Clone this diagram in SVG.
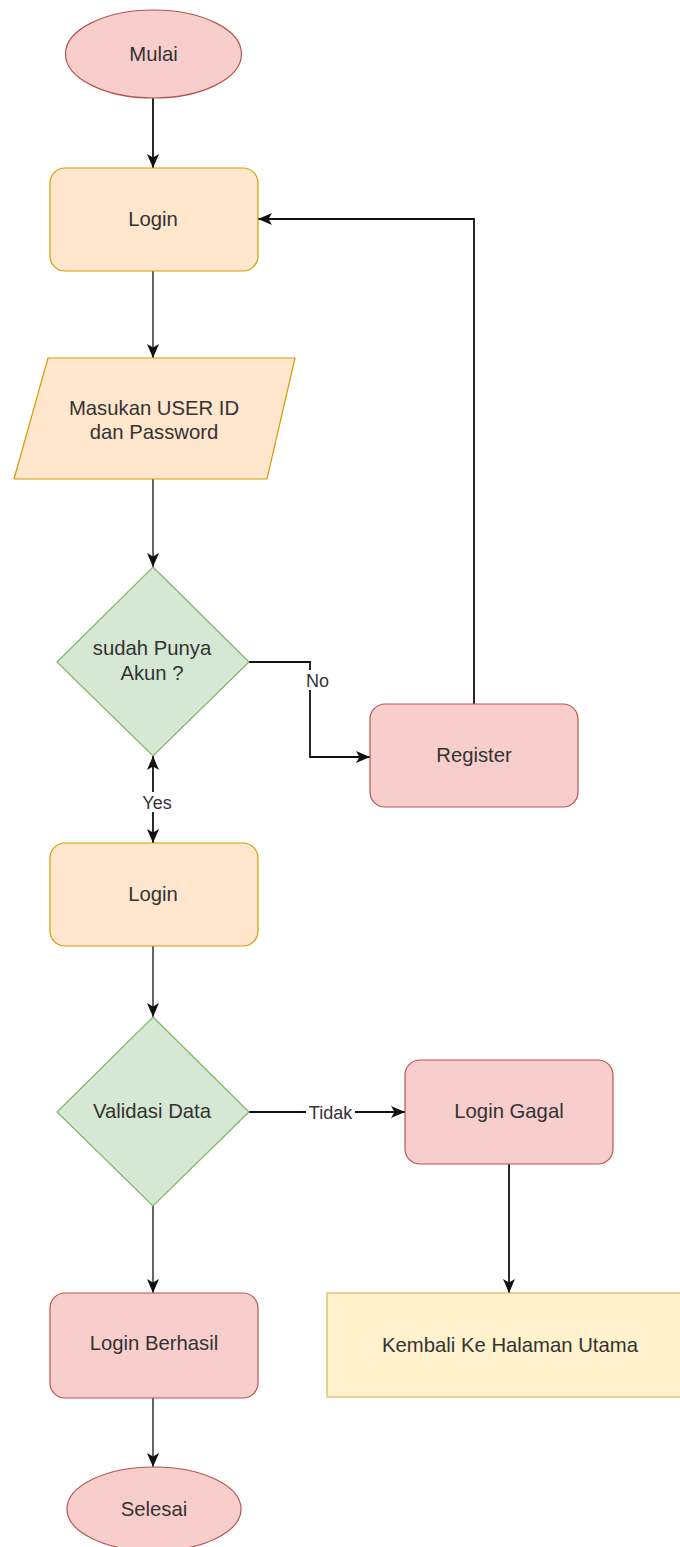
<svg xmlns="http://www.w3.org/2000/svg" width="680" height="1547" viewBox="0 0 680 1547">
  <defs>
    <style>
      .term { fill: #f8cecc; stroke: #b85450; stroke-width: 1.2; }
      .proc { fill: #ffe6cc; stroke: #d79b00; stroke-width: 1.2; }
      .red  { fill: #f8cecc; stroke: #b85450; stroke-width: 1.2; }
      .dec  { fill: #d5e8d4; stroke: #82b366; stroke-width: 1.2; }
      .note { fill: #fff2cc; stroke: #d6b656; stroke-width: 1.2; }
      .t    { font-family: "Liberation Sans", Arial, sans-serif; font-size: 20.3px; fill: #333333; text-anchor: middle; }
      .lbl  { font-family: "Liberation Sans", Arial, sans-serif; font-size: 18px; fill: #333333; text-anchor: middle; }
      .edge { fill: none; stroke: #111111; stroke-width: 1.8; }
      .edge.g { stroke: #555555; }
      .bg   { fill: #ffffff; }
    </style>
    <marker id="arr" viewBox="0 0 14 12" refX="14" refY="6" markerWidth="14" markerHeight="12" markerUnits="userSpaceOnUse" orient="auto-start-reverse">
      <path d="M0,0 L14,6 L0,12 L3.5,6 z" fill="#111111"/>
    </marker>
  </defs>

  <!-- connectors -->
  <g id="connectors">
    <path class="edge" d="M153,98 L153,168" marker-end="url(#arr)"/>
    <path class="edge g" d="M153,271 L153,358" marker-end="url(#arr)"/>
    <path class="edge g" d="M153,479 L153,567" marker-end="url(#arr)"/>
    <path class="edge" d="M249,662 L310,662 L310,757 L370,757" marker-end="url(#arr)"/>
    <path class="edge" d="M474,704 L474,219 L258,219" marker-end="url(#arr)"/>
    <path class="edge" d="M153,756 L153,843" marker-start="url(#arr)" marker-end="url(#arr)"/>
    <path class="edge g" d="M153,946 L153,1017" marker-end="url(#arr)"/>
    <path class="edge" d="M249,1112 L405,1112" marker-end="url(#arr)"/>
    <path class="edge g" d="M153,1206 L153,1293" marker-end="url(#arr)"/>
    <path class="edge" d="M509,1164 L509,1293" marker-end="url(#arr)"/>
    <path class="edge g" d="M153,1398 L153,1467" marker-end="url(#arr)"/>

    <!-- edge labels -->
    <rect class="bg" x="304" y="670" width="27" height="20"/>
    <text class="lbl" x="317.5" y="686.5">No</text>
    <rect class="bg" x="140" y="792" width="34" height="20"/>
    <text class="lbl" x="157" y="808.5">Yes</text>
    <rect class="bg" x="306" y="1102" width="49" height="20"/>
    <text class="lbl" x="330.5" y="1118.5">Tidak</text>
  </g>

  <g id="mulai">
    <ellipse class="term" cx="153.5" cy="54" rx="88" ry="44"/>
    <text class="t" x="153.5" y="61">Mulai</text>
  </g>

  <g id="login1">
    <rect class="proc" x="50" y="168" width="208" height="103" rx="15"/>
    <text class="t" x="153" y="226">Login</text>
  </g>

  <g id="input">
    <polygon class="proc" points="48,358 295,358 267,479 14,479"/>
    <text class="t" x="154" y="415">Masukan USER ID</text>
    <text class="t" x="154" y="439">dan Password</text>
  </g>

  <g id="punya-akun">
    <polygon class="dec" points="153,567 249,662 153,756 57,662"/>
    <text class="t" x="152" y="655">sudah Punya</text>
    <text class="t" x="152" y="680">Akun ?</text>
  </g>

  <g id="register">
    <rect class="red" x="370" y="704" width="208" height="103" rx="15"/>
    <text class="t" x="474" y="762">Register</text>
  </g>

  <g id="login2">
    <rect class="proc" x="50" y="843" width="208" height="103" rx="15"/>
    <text class="t" x="153" y="901">Login</text>
  </g>

  <g id="validasi">
    <polygon class="dec" points="153,1017 249,1112 153,1206 57,1112"/>
    <text class="t" x="152" y="1118">Validasi Data</text>
  </g>

  <g id="login-gagal">
    <rect class="red" x="405" y="1060" width="208" height="104" rx="15"/>
    <text class="t" x="509" y="1118">Login Gagal</text>
  </g>

  <g id="login-berhasil">
    <rect class="red" x="50" y="1293" width="208" height="105" rx="15"/>
    <text class="t" x="154" y="1350">Login Berhasil</text>
  </g>

  <g id="kembali">
    <rect class="note" x="327" y="1293" width="358" height="104"/>
    <text class="t" x="510" y="1352">Kembali Ke Halaman Utama</text>
  </g>

  <g id="selesai">
    <ellipse class="term" cx="154" cy="1509" rx="87" ry="42"/>
    <text class="t" x="154" y="1516">Selesai</text>
  </g>
</svg>
